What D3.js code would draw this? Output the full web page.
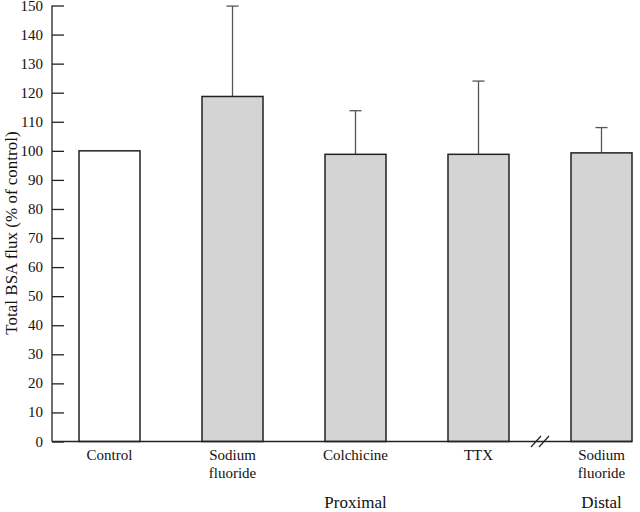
<!DOCTYPE html>
<html>
<head>
<meta charset="utf-8">
<script src="https://cdn.jsdelivr.net/npm/d3@7.9.0/dist/d3.min.js"></script>
<style>
  html, body { margin: 0; padding: 0; background: #fff; }
  svg text { font-family: "Liberation Serif", "DejaVu Serif", serif; fill: #111; }
</style>
</head>
<body>
<div id="chart"></div>
<script>
// values
const categories = ['Control', 'Sodium fluoride', 'Colchicine', 'TTX', 'Distal sodium fluoride'];
const labelLines = [['Control'], ['Sodium', 'fluoride'], ['Colchicine'], ['TTX'], ['Sodium', 'fluoride']];
const means = [100, 118.7, 98.8, 98.8, 99.3];
const errorTops = [null, 149.8, 113.8, 124, 108];
const groupLabels = [
  { text: 'Proximal', from: 'Sodium fluoride', to: 'TTX' },
  { text: 'Distal', from: 'Distal sodium fluoride', to: 'Distal sodium fluoride' }
];
const yTicks = d3.range(0, 151, 10);

const width = 640;
const height = 512;
const axisLeft = 52;
const axisRight = 632;
const baseY = 441.5;
const topY = 5.5;
const serif = '"Liberation Serif", "DejaVu Serif", serif';

const svg = d3.select('#chart')
  .append('svg')
  .attr('width', width)
  .attr('height', height);

const x = d3.scaleBand()
  .domain(categories)
  .range([79, axisRight])
  .paddingInner(0.504)
  .paddingOuter(0);

const y = d3.scaleLinear().domain([0, 150]).range([baseY, topY]);

// y axis, ticks point inward (to the right)
const yAxis = d3.axisRight(y).tickValues(yTicks).tickSize(12).tickFormat('');
const yg = svg.append('g')
  .attr('transform', `translate(${axisLeft},0)`)
  .call(yAxis);
yg.select('.domain').remove();
yg.selectAll('.tick line').attr('stroke', '#222').attr('stroke-width', 1.3);

svg.append('line')
  .attr('x1', axisLeft).attr('x2', axisLeft)
  .attr('y1', y(150)).attr('y2', y(0))
  .attr('stroke', '#222').attr('stroke-width', 1.3);

svg.append('g')
  .selectAll('text')
  .data(yTicks)
  .join('text')
  .attr('x', 43)
  .attr('y', (d) => y(d) + 5)
  .attr('text-anchor', 'end')
  .attr('font-family', serif)
  .attr('font-size', 15)
  .text((d) => d);

// y axis title
svg.append('text')
  .attr('transform', `translate(17, ${233}) rotate(-90)`)
  .attr('text-anchor', 'middle')
  .attr('font-family', serif)
  .attr('font-size', 17)
  .text('Total BSA flux (% of control)');

// error bars (top only)
const errData = categories.map((c, i) => ({ c, m: means[i], e: errorTops[i] })).filter((d) => d.e != null);
const eg = svg.append('g');
eg.selectAll('line.v')
  .data(errData)
  .join('line')
  .attr('class', 'v')
  .attr('x1', (d) => x(d.c) + x.bandwidth() / 2)
  .attr('x2', (d) => x(d.c) + x.bandwidth() / 2)
  .attr('y1', (d) => y(d.m))
  .attr('y2', (d) => y(d.e))
  .attr('stroke', '#555').attr('stroke-width', 1.3);
eg.selectAll('line.cap')
  .data(errData)
  .join('line')
  .attr('class', 'cap')
  .attr('x1', (d) => x(d.c) + x.bandwidth() / 2 - 6)
  .attr('x2', (d) => x(d.c) + x.bandwidth() / 2 + 6)
  .attr('y1', (d) => y(d.e))
  .attr('y2', (d) => y(d.e))
  .attr('stroke', '#555').attr('stroke-width', 1.3);

// bars
svg.append('g')
  .selectAll('rect')
  .data(categories)
  .join('rect')
  .attr('x', (d) => x(d))
  .attr('y', (d, i) => y(means[i]))
  .attr('width', x.bandwidth())
  .attr('height', (d, i) => y(0) - y(means[i]))
  .attr('fill', (d, i) => (i === 0 ? '#ffffff' : '#d4d4d4'))
  .attr('stroke', '#222')
  .attr('stroke-width', 1.5);

// x axis baseline
svg.append('line')
  .attr('x1', axisLeft).attr('x2', axisRight)
  .attr('y1', baseY).attr('y2', baseY)
  .attr('stroke', '#222').attr('stroke-width', 1.3);

// axis break marks between TTX and distal bar
const breakX = (x('TTX') + x.bandwidth() + x('Distal sodium fluoride')) / 2;
svg.append('g')
  .selectAll('line')
  .data([-4, 4])
  .join('line')
  .attr('x1', (d) => breakX + d - 5)
  .attr('x2', (d) => breakX + d + 5)
  .attr('y1', baseY + 5.5)
  .attr('y2', baseY - 5.5)
  .attr('stroke', '#222').attr('stroke-width', 1.2);

// category labels
const lg = svg.append('g');
categories.forEach((c, i) => {
  const t = lg.append('text')
    .attr('x', x(c) + x.bandwidth() / 2)
    .attr('y', 460)
    .attr('text-anchor', 'middle')
    .attr('font-family', serif)
    .attr('font-size', 15);
  labelLines[i].forEach((line, j) => {
    t.append('tspan')
      .attr('x', x(c) + x.bandwidth() / 2)
      .attr('dy', j === 0 ? 0 : 18)
      .text(line);
  });
});

// group labels
svg.append('g')
  .selectAll('text')
  .data(groupLabels)
  .join('text')
  .attr('x', (d) => (x(d.from) + x(d.to) + x.bandwidth()) / 2)
  .attr('y', 508)
  .attr('text-anchor', 'middle')
  .attr('font-family', serif)
  .attr('font-size', 17)
  .text((d) => d.text);
</script>
</body>
</html>
